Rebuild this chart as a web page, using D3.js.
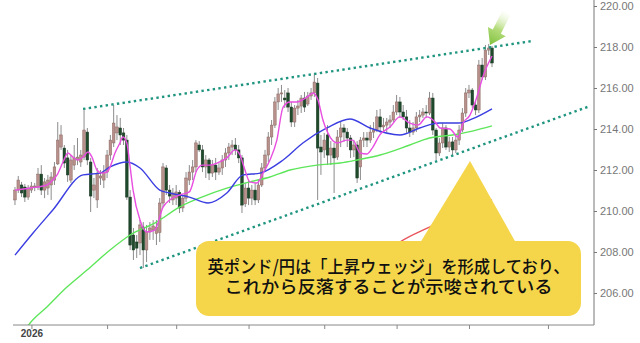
<!DOCTYPE html>
<html>
<head>
<meta charset="utf-8">
<script src="https://cdnjs.cloudflare.com/ajax/libs/d3/7.8.5/d3.min.js"></script>
<style>
  body { margin: 0; background: #fff; }
  svg { display: block; }
</style>
</head>
<body>
<div id="chart"></div>
<script>
// GBP/JPY candles, one row per bar: [open, high, low, close]
var candles = [
  [210.54,211.17,210.29,211.02],[211.02,211.71,210.88,211.51],[211.27,211.42,210.68,210.88],[211.17,211.32,210.44,210.68],
  [210.68,211.27,210.54,211.12],[211.02,211.42,210.88,211.22],[211.17,211.37,210.97,211.22],[211.17,212.10,211.02,211.80],
  [211.80,212.24,210.78,211.02],[211.02,211.61,210.63,211.42],[211.12,211.76,210.78,211.51],[211.27,211.90,210.54,211.66],
  [211.51,212.39,211.27,212.15],[212.30,214.34,212.24,213.46],[213.12,214.19,212.98,213.71],[213.07,213.22,212.10,212.34],
  [212.59,212.98,211.42,211.76],[211.51,212.73,211.37,212.49],[212.24,213.22,212.00,212.59],[212.49,213.56,212.24,212.63],
  [212.39,212.98,212.15,212.73],[212.63,214.98,212.49,213.95],[213.85,214.05,212.24,212.49],[212.39,212.59,209.95,210.73],
  [211.02,211.61,210.63,211.27],[210.54,212.10,210.15,211.85],[211.61,212.00,211.27,211.71],[211.51,212.24,211.12,211.90],
  [211.90,212.98,211.61,212.73],[212.73,213.71,212.49,213.46],[213.32,215.17,213.12,214.29],[213.81,214.68,213.46,214.10],
  [214.05,214.54,213.22,213.71],[213.81,214.05,213.22,213.46],[213.46,213.71,210.54,210.68],[210.68,211.02,208.10,208.34],
  [208.83,209.17,207.61,208.10],[208.49,208.83,207.71,208.19],[208.44,209.56,207.85,209.32],[209.22,209.46,207.22,208.10],
  [208.10,209.32,207.51,208.98],[208.98,209.46,208.59,209.17],[209.07,209.56,208.59,209.27],[208.90,209.56,208.34,209.22],
  [208.95,210.63,208.49,210.39],[210.39,212.34,210.19,212.15],[212.10,212.24,210.78,211.02],[211.02,211.27,210.39,210.73],
  [210.54,211.12,210.29,210.88],[210.63,211.27,210.29,210.93],[210.90,211.02,209.90,210.15],[210.15,210.78,209.95,210.63],
  [210.63,211.90,210.44,211.61],[211.51,212.24,211.27,211.90],[211.90,212.49,211.51,212.15],[212.15,213.46,211.90,213.32],
  [213.22,213.41,212.88,212.98],[212.98,213.22,211.90,212.15],[212.15,212.73,211.61,212.49],[212.49,212.59,211.51,211.85],
  [211.85,212.49,211.66,212.24],[212.24,212.59,211.51,211.90],[211.90,212.34,211.76,212.10],[212.10,212.73,211.76,212.49],
  [212.49,213.07,212.15,212.83],[212.83,213.32,212.49,213.12],[213.12,213.46,212.73,213.22],[213.22,213.56,212.73,212.98],
  [212.98,213.22,212.34,212.59],[212.59,212.73,209.90,210.29],[210.35,211.37,210.20,211.12],[211.12,211.51,210.29,210.63],
  [210.63,211.27,210.29,211.02],[211.02,211.37,210.29,210.54],[210.54,211.51,210.39,211.27],[211.27,212.34,211.17,212.10],
  [212.10,212.98,211.90,212.73],[212.73,213.85,212.39,213.61],[213.61,214.44,213.22,214.19],[214.19,215.56,214.05,215.32],
  [215.32,216.00,214.93,215.71],[215.71,216.15,215.32,215.76],[215.51,215.90,215.03,215.42],[215.76,216.00,214.83,215.07],
  [215.07,215.32,214.10,214.34],[214.34,215.17,214.10,215.02],[215.02,215.42,214.68,215.12],[215.12,215.66,214.78,215.51],
  [215.51,215.81,214.83,215.07],[215.22,215.81,215.12,215.61],[215.61,216.00,215.42,215.76],[215.76,216.73,215.56,216.29],
  [216.24,216.49,210.54,213.07],[213.12,213.71,211.76,212.88],[212.98,213.81,212.59,213.46],[213.71,214.19,212.24,212.73],
  [212.73,213.41,212.24,213.07],[213.07,213.32,210.88,212.59],[212.63,213.95,212.49,213.61],[213.61,214.34,213.12,214.05],
  [214.05,214.24,213.37,213.85],[213.85,214.05,213.12,213.56],[213.56,213.71,212.59,212.98],[212.98,213.46,212.63,213.22],
  [213.22,213.41,211.37,211.61],[212.15,213.61,211.51,213.46],[213.46,213.85,213.12,213.56],[213.56,213.85,213.12,213.46],
  [213.46,214.19,213.32,213.85],[213.85,214.34,213.56,213.95],[213.95,214.93,213.85,214.59],[214.59,214.98,213.81,214.10],
  [214.10,214.54,213.81,214.19],[214.19,214.54,213.85,214.34],[214.34,214.68,214.05,214.44],[214.44,215.17,214.34,214.83],
  [214.83,215.66,214.68,215.32],[215.32,215.56,214.54,214.83],[214.83,215.17,214.44,214.59],[214.59,214.93,213.81,214.05],
  [214.05,214.44,213.61,213.85],[213.85,214.34,213.71,214.05],[214.05,214.83,213.85,214.59],[214.59,214.93,214.34,214.68],
  [214.68,215.02,214.54,214.83],[214.83,215.17,214.54,214.78],[214.78,215.81,214.68,215.51],[215.51,215.76,213.71,213.95],
  [213.95,214.05,212.49,212.83],[212.83,213.56,212.68,213.32],[213.32,214.29,213.07,214.05],[214.05,214.19,212.98,213.12],
  [213.12,213.61,212.88,213.37],[213.37,213.61,212.68,212.98],[212.98,213.66,212.83,213.46],[213.46,214.19,213.22,213.95],
  [213.95,215.02,213.85,214.78],[214.78,216.00,214.59,215.76],[215.76,216.15,215.51,215.90],[215.90,216.00,215.02,215.17],
  [215.17,215.42,214.68,214.93],[214.93,217.37,214.78,217.12],[217.12,217.46,216.39,216.54],[216.54,218.10,216.39,217.85],
  [217.85,218.15,217.61,217.95],[217.95,218.05,217.02,217.22]
];

// moving averages: [bar index, price]
var maFast = [
  [0,211.02],[4.6,211.12],[9.7,211.27],[10.6,211.37],[12.8,211.76],[14.6,212.39],[16.1,212.83],[17.6,212.63],
  [19.1,212.49],[20.7,212.63],[22.2,212.88],[23.4,212.63],[24.9,212.00],[26.4,211.85],[28,211.90],[28.9,212.15],
  [30.4,212.83],[31.9,213.32],[32.8,213.61],[34,213.32],[35,212.15],[35.9,211.02],[38,209.56],[40,208.98],
  [42.5,209.07],[45,210.19],[47,210.54],[50,210.78],[53,210.93],[55.3,212.00],[57,212.24],[59.3,212.24],
  [61.4,212.34],[64.4,212.59],[66.9,212.98],[68.4,212.73],[69.9,212.00],[71.4,211.42],[73.6,211.37],[75.4,211.85],
  [77.5,212.49],[79.6,213.46],[81.5,215.07],[83.6,215.32],[85.7,215.32],[88.8,215.56],[90.6,215.76],[92.1,215.42],
  [93.6,214.44],[95.1,213.81],[97.9,213.32],[100.9,213.46],[102.7,213.46],[104.9,212.83],[107,212.78],[108.8,213.12],
  [110.9,213.71],[114,214.10],[117,214.59],[120,214.29],[122.5,214.19],[125.2,214.59],[127.7,214.34],[129.2,214.05],
  [132.2,214.00],[134.7,213.61],[136.2,214.29],[138.3,214.68],[140.4,215.56],[142.2,216.54],[145,217.56]
];
var maMid = [
  [0,207.85],[5.5,208.93],[11.5,210.05],[20.7,211.76],[25.8,211.85],[28.9,212.15],[34,212.39],[38,212.10],
  [44,211.02],[47,210.88],[53,210.68],[58.7,210.39],[64.4,210.88],[69.3,211.76],[74.5,211.85],[81.5,212.49],
  [87.5,213.32],[94.8,214.05],[101.8,214.49],[107.9,214.05],[117,213.71],[123,214.05],[129,214.29],[135,214.29],
  [139,214.49],[145,214.98]
];
var maSlow = [
  [0,203.46],[4.6,204.54],[9.7,205.32],[15.8,206.29],[21.9,207.12],[28.9,208.10],[35,208.83],[43,209.46],
  [50,210.19],[56,210.63],[64.4,211.12],[71.4,211.42],[77.5,211.66],[83.6,212.00],[91.8,212.24],[98.8,212.34],
  [104,212.49],[111,212.73],[120,213.22],[126,213.56],[133,213.71],[139,213.90],[145,214.15]
];
var maLong = [
  [99,206.15],[108,207.30],[117,208.49],[126,209.22],[145,210.54]
];

// rising wedge lines: [bar index, price]
var wedgeUpper = [[20.7,214.98],[157.1,218.29]];
var wedgeLower = [[38,207.22],[174.8,215.12]];

var priceTicks = [206, 208, 210, 212, 214, 216, 218, 220];
var timeTicks = [5, 28, 49, 71, 94, 116, 138, 162];
var timeLabels = ["2026", "", "", "", "", "", "", ""];

var calloutLines = ["英ポンド/円は「上昇ウェッジ」を形成しており、", "これから反落することが示唆されている"];

var width = 640, height = 343;
var plot = {left: 13, right: 594, top: 0, bottom: 325};

var x = d3.scaleLinear().domain([-0.6, 176]).range([plot.left, plot.right]);
var y = d3.scaleLinear().domain([204.44, 220.293]).range([plot.bottom, plot.top]);

var svg = d3.select("#chart").append("svg")
    .attr("width", width)
    .attr("height", height);

var defs = svg.append("defs");
defs.append("clipPath").attr("id", "plotclip")
  .append("rect")
    .attr("x", plot.left).attr("y", plot.top)
    .attr("width", plot.right - plot.left).attr("height", plot.bottom - plot.top);

var grad = defs.append("linearGradient").attr("id", "arrowgrad")
    .attr("x1", "0%").attr("x2", "100%").attr("y1", "0%").attr("y2", "0%");
grad.append("stop").attr("offset", "0%").attr("stop-color", "#eef8de").attr("stop-opacity", 0.2);
grad.append("stop").attr("offset", "50%").attr("stop-color", "#b5dc7c");
grad.append("stop").attr("offset", "100%").attr("stop-color", "#80c23e");

var g = svg.append("g").attr("clip-path", "url(#plotclip)");

// candles
var bar = g.selectAll(".candle")
    .data(candles)
  .enter().append("g")
    .attr("class", "candle");

bar.append("line")
    .attr("x1", function(d, i) { return x(i); })
    .attr("x2", function(d, i) { return x(i); })
    .attr("y1", function(d) { return y(d[1]); })
    .attr("y2", function(d) { return y(d[2]); })
    .attr("stroke", "#8c8c8c")
    .attr("stroke-width", 1);

bar.append("rect")
    .attr("x", function(d, i) { return x(i) - 1.3; })
    .attr("width", 2.6)
    .attr("y", function(d) { return y(Math.max(d[0], d[3])); })
    .attr("height", function(d) { return Math.max(1, Math.abs(y(d[0]) - y(d[3]))); })
    .attr("fill", function(d) { return d[3] >= d[0] ? "#b8918c" : "#1f4b2c"; })
    .attr("stroke", function(d) { return d[3] >= d[0] ? "#8a6661" : "#16351f"; })
    .attr("stroke-width", 0.5);

// moving averages
var line = d3.line()
    .x(function(d) { return x(d[0]); })
    .y(function(d) { return y(d[1]); })
    .curve(d3.curveMonotoneX);

[
  {data: maLong, color: "#e8535a"},
  {data: maSlow, color: "#5ee65a"},
  {data: maMid, color: "#3b3ee0"},
  {data: maFast, color: "#e84ee0"}
].forEach(function(s) {
  g.append("path")
      .datum(s.data)
      .attr("fill", "none")
      .attr("stroke", s.color)
      .attr("stroke-width", 1.4)
      .attr("d", line);
});

// wedge
var straight = d3.line()
    .x(function(d) { return x(d[0]); })
    .y(function(d) { return y(d[1]); });

[wedgeUpper, wedgeLower].forEach(function(w) {
  g.append("path")
      .datum(w)
      .attr("fill", "none")
      .attr("stroke", "#1f9580")
      .attr("stroke-width", 2.4)
      .attr("stroke-dasharray", "2.4,3.3")
      .attr("d", straight);
});

// axes
var yAxis = d3.axisRight(y)
    .tickValues(priceTicks)
    .tickSize(3)
    .tickFormat(d3.format(".2f"));

var ya = svg.append("g")
    .attr("transform", "translate(" + plot.right + ",0)")
    .call(yAxis);
ya.select(".domain").attr("stroke", "#777").attr("d", "M0," + plot.top + "V" + plot.bottom);
ya.selectAll(".tick line").attr("stroke", "#777");
ya.selectAll(".tick text")
    .attr("x", 6)
    .attr("fill", "#777")
    .attr("font-family", "Liberation Sans, Arial, sans-serif")
    .attr("font-size", 11);

var xAxis = d3.axisBottom(x)
    .tickValues(timeTicks)
    .tickSize(4)
    .tickFormat(function(d, i) { return timeLabels[i]; });

var xa = svg.append("g")
    .attr("transform", "translate(0," + plot.bottom + ")")
    .call(xAxis);
xa.select(".domain").attr("stroke", "#888").attr("d", "M" + plot.left + ",0H" + plot.right);
xa.selectAll(".tick line").attr("stroke", "#888");
xa.selectAll(".tick text")
    .attr("y", 5)
    .attr("fill", "#444")
    .attr("font-weight", "bold")
    .attr("font-family", "Liberation Sans, Arial, sans-serif")
    .attr("font-size", 10);

// callout
var box = {x: 196, y: 241, w: 385, h: 75, r: 13};
var apex = {x: 470, y: 161};
var callout = svg.append("g");
callout.append("path")
    .attr("d", "M" + (apex.x - 50) + "," + (box.y + 2) + "L" + apex.x + "," + apex.y + "L" + (apex.x + 46) + "," + (box.y + 2) + "Z")
    .attr("fill", "#f5d64b");
callout.append("rect")
    .attr("x", box.x).attr("y", box.y)
    .attr("width", box.w).attr("height", box.h)
    .attr("rx", box.r)
    .attr("fill", "#f5d64b");

callout.selectAll("text")
    .data(calloutLines)
  .enter().append("text")
    .attr("x", box.x + box.w / 2)
    .attr("y", function(d, i) { return 273 + i * 19.5; })
    .attr("text-anchor", "middle")
    .attr("font-family", "Noto Sans CJK JP, sans-serif")
    .attr("font-weight", 500)
    .attr("font-size", 17.5)
    .attr("fill", "#111")
    .attr("textLength", function(d, i) { return i == 0 ? 362 : 328; })
    .attr("lengthAdjust", "spacingAndGlyphs")
    .text(function(d) { return d; });

// arrow pointing down-left at the last high
var last = candles.length - 1;
var tip = {x: x(last) - 2, y: y(candles[last][1]) - 1};
var ang = 117;
var len = 36;
svg.append("path")
    .attr("transform", "translate(" + tip.x + "," + tip.y + ") rotate(" + ang + ")")
    .attr("d", "M0,0L-15,-10L-15,-4.5L-" + len + ",-4.5L-" + len + ",4.5L-15,4.5L-15,10Z")
    .attr("fill", "url(#arrowgrad)");
</script>
</body>
</html>
